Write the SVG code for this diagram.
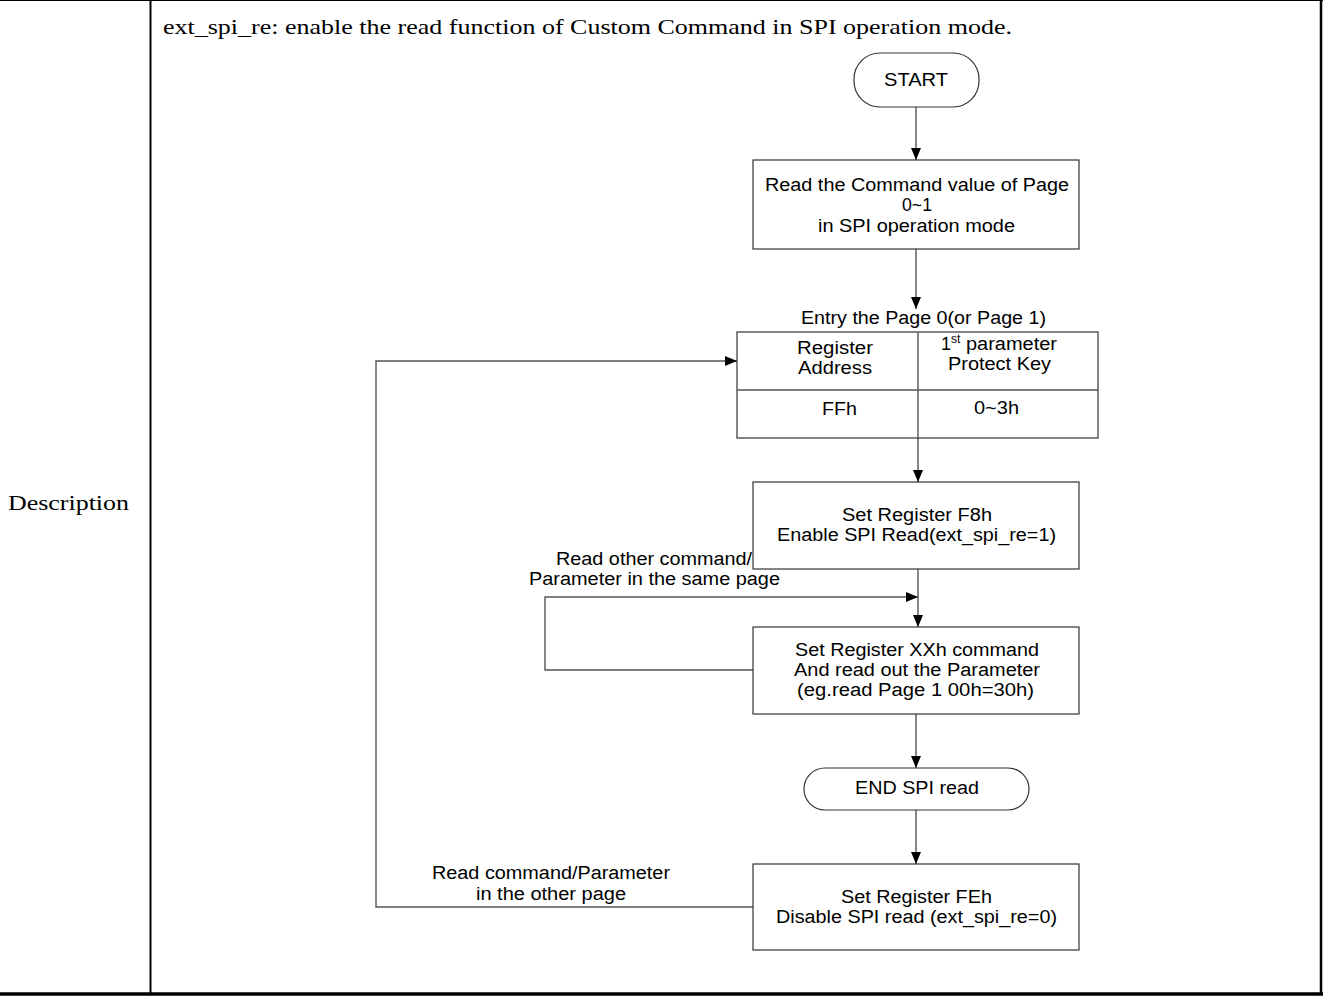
<svg xmlns="http://www.w3.org/2000/svg" width="1323" height="997" viewBox="0 0 1323 997">
<defs>
<marker id="arr" markerWidth="12" markerHeight="10" refX="12" refY="5" orient="auto" markerUnits="userSpaceOnUse">
<path d="M0,0 L12,5 L0,10 Z" fill="#000"/>
</marker>
<style>
.frame{stroke:#000;fill:none}
.tt{font-family:"Liberation Serif",serif;font-size:22px;fill:#000}
.t{font-family:"Liberation Sans",Arial,sans-serif;font-size:18px;fill:#000;text-anchor:middle}
.tl{font-family:"Liberation Sans",Arial,sans-serif;font-size:18px;fill:#000}
.box{fill:#fff;stroke:#333;stroke-width:1.2}
.ln{fill:none;stroke:#555;stroke-width:1.4}
</style>
</defs>
<rect width="1323" height="997" fill="#fff"/>
<g id="frame">
<line class="frame" x1="0" y1="0.5" x2="1323" y2="0.5" stroke-width="1"/>
<line class="frame" x1="150.5" y1="0" x2="150.5" y2="994" stroke-width="2"/>
<line class="frame" x1="1321" y1="0" x2="1321" y2="994" stroke-width="2.5"/>
<line class="frame" x1="0" y1="994" x2="1323" y2="994" stroke-width="3.5"/>
<text class="tt" x="8" y="510" textLength="121" lengthAdjust="spacingAndGlyphs">Description</text>
<text class="tt" x="163" y="34" textLength="849" lengthAdjust="spacingAndGlyphs">ext_spi_re: enable the read function of Custom Command in SPI operation mode.</text>
</g>
<g id="connectors">
<line class="ln" x1="916" y1="107" x2="916" y2="160" marker-end="url(#arr)"/>
<line class="ln" x1="916" y1="249" x2="916" y2="309" marker-end="url(#arr)"/>
<line class="ln" x1="918" y1="438" x2="918" y2="482" marker-end="url(#arr)"/>
<line class="ln" x1="918" y1="569" x2="918" y2="627" marker-end="url(#arr)"/>
<polyline class="ln" points="753,670 545,670 545,597 918,597" marker-end="url(#arr)"/>
<line class="ln" x1="916" y1="714" x2="916" y2="768" marker-end="url(#arr)"/>
<line class="ln" x1="916" y1="810" x2="916" y2="864" marker-end="url(#arr)"/>
<polyline class="ln" points="753,907 376,907 376,361 737,361" marker-end="url(#arr)"/>
<text class="tl" x="556" y="565" textLength="196" lengthAdjust="spacingAndGlyphs">Read other command/</text>
<text class="tl" x="529" y="585" textLength="251" lengthAdjust="spacingAndGlyphs">Parameter in the same page</text>
<text class="tl" x="432" y="879" textLength="238" lengthAdjust="spacingAndGlyphs">Read command/Parameter</text>
<text class="tl" x="476" y="900" textLength="150" lengthAdjust="spacingAndGlyphs">in the other page</text>
</g>
<g id="start">
<rect class="box" x="854" y="53" width="125" height="54" rx="26" ry="26"/>
<text class="tl" x="884" y="86" textLength="64" lengthAdjust="spacingAndGlyphs">START</text>
</g>
<g id="read-command">
<rect class="box" x="753" y="160" width="326" height="89"/>
<text class="tl" x="765" y="191" textLength="304" lengthAdjust="spacingAndGlyphs">Read the Command value of Page</text>
<text class="tl" x="902" y="211" textLength="30" lengthAdjust="spacingAndGlyphs">0~1</text>
<text class="tl" x="818" y="232" textLength="197" lengthAdjust="spacingAndGlyphs">in SPI operation mode</text>
</g>
<g id="entry-page">
<text class="tl" x="801" y="324" textLength="245" lengthAdjust="spacingAndGlyphs">Entry the Page 0(or Page 1)</text>
<rect class="box" x="737" y="332" width="361" height="106"/>
<line class="ln" x1="737" y1="390" x2="1098" y2="390" stroke="#333"/>
<line class="ln" x1="918" y1="332" x2="918" y2="438" stroke="#333"/>
<text class="tl" x="797" y="354" textLength="76" lengthAdjust="spacingAndGlyphs">Register</text>
<text class="tl" x="798" y="374" textLength="74" lengthAdjust="spacingAndGlyphs">Address</text>
<text class="tl" x="941" y="350">1<tspan font-size="12" dy="-7">st</tspan></text>
<text class="tl" x="966" y="350" textLength="91" lengthAdjust="spacingAndGlyphs">parameter</text>
<text class="tl" x="948" y="370" textLength="103" lengthAdjust="spacingAndGlyphs">Protect Key</text>
<text class="tl" x="822" y="415" textLength="35" lengthAdjust="spacingAndGlyphs">FFh</text>
<text class="tl" x="974" y="414" textLength="45" lengthAdjust="spacingAndGlyphs">0~3h</text>
</g>
<g id="set-f8h">
<rect class="box" x="753" y="482" width="326" height="87"/>
<text class="tl" x="842" y="521" textLength="150" lengthAdjust="spacingAndGlyphs">Set Register F8h</text>
<text class="tl" x="777" y="541" textLength="279" lengthAdjust="spacingAndGlyphs">Enable SPI Read(ext_spi_re=1)</text>
</g>
<g id="set-xxh">
<rect class="box" x="753" y="627" width="326" height="87"/>
<text class="tl" x="795" y="656" textLength="244" lengthAdjust="spacingAndGlyphs">Set Register XXh command</text>
<text class="tl" x="794" y="676" textLength="246" lengthAdjust="spacingAndGlyphs">And read out the Parameter</text>
<text class="tl" x="797" y="696" textLength="237" lengthAdjust="spacingAndGlyphs">(eg.read Page 1 00h=30h)</text>
</g>
<g id="end">
<rect class="box" x="804" y="768" width="225" height="42" rx="21" ry="21"/>
<text class="tl" x="855" y="794" textLength="124" lengthAdjust="spacingAndGlyphs">END SPI read</text>
</g>
<g id="set-feh">
<rect class="box" x="753" y="864" width="326" height="86"/>
<text class="tl" x="841" y="903" textLength="151" lengthAdjust="spacingAndGlyphs">Set Register FEh</text>
<text class="tl" x="776" y="923" textLength="281" lengthAdjust="spacingAndGlyphs">Disable SPI read (ext_spi_re=0)</text>
</g>
</svg>
